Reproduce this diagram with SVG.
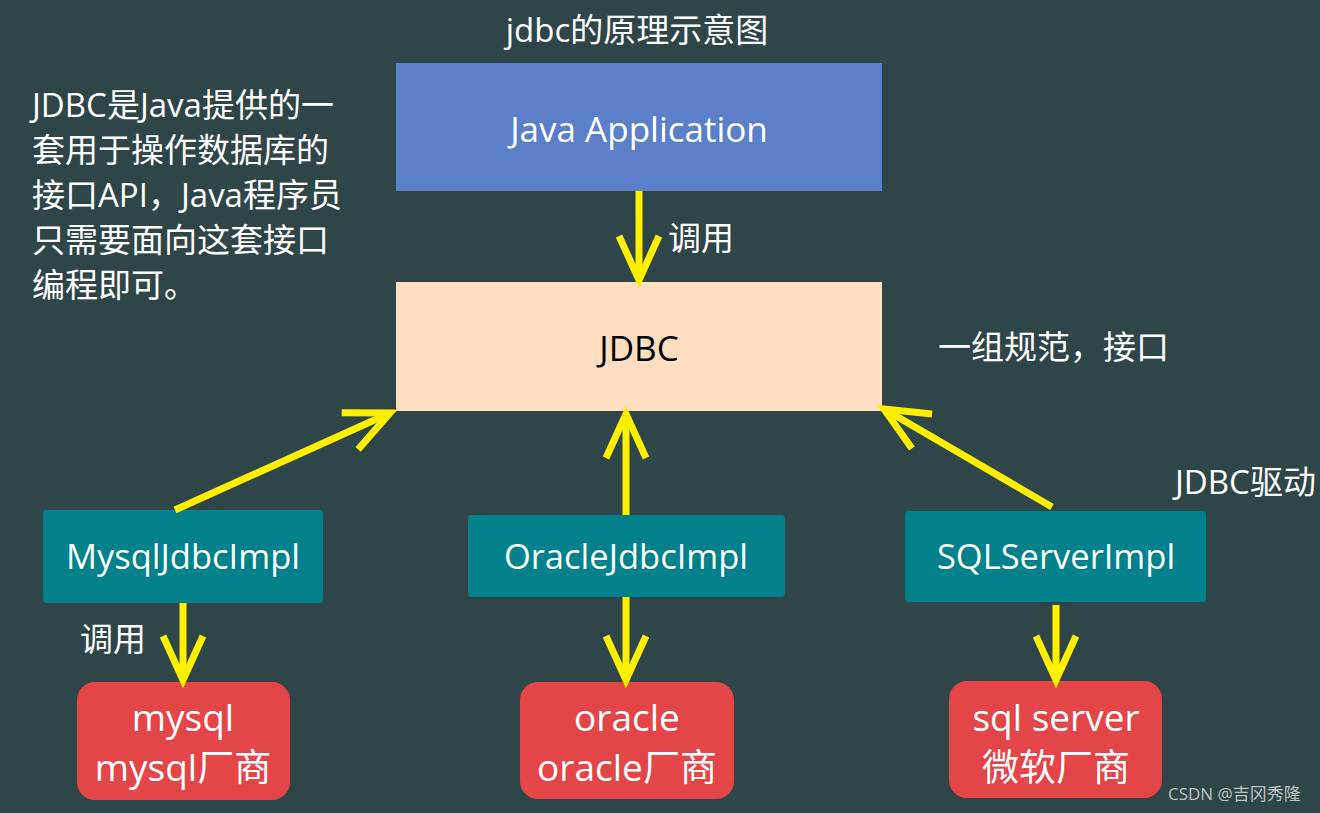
<svg xmlns="http://www.w3.org/2000/svg" width="1320" height="813" viewBox="0 0 1320 813">
<style>
text{font-family:"Open Sans","Noto Sans CJK SC",sans-serif;}
.w{fill:#ffffff;font-size:33px;}
.note{fill:#ffffff;font-size:33px;}
.big{font-size:35px;text-anchor:middle;}
.impl{fill:#ffffff;font-size:34.5px;text-anchor:middle;}
.db{fill:#ffffff;font-size:37px;text-anchor:middle;}
.impl-box{fill:#00818b;}
.db-box{fill:#e44647;}
.conn{stroke:#fff000;stroke-width:7;fill:none;marker-end:url(#chev);}
</style>
<defs>
<marker id="chev" markerUnits="userSpaceOnUse" viewBox="-60 -30 70 60" refX="0" refY="0" markerWidth="70" markerHeight="60" orient="auto">
<path d="M-44,-20 L0,0 L-44,20" fill="none" stroke="#fff000" stroke-width="7"/>
</marker>
</defs>
<rect x="0" y="0" width="1320" height="813" fill="#2f4547"/>
<text class="w" x="637" y="42" text-anchor="middle" font-size="31">jdbc的原理示意图</text>
<g id="note">
<text class="note" x="32" y="117">JDBC是Java提供的一</text>
<text class="note" x="32" y="162">套用于操作数据库的</text>
<text class="note" x="32" y="207">接口API，Java程序员</text>
<text class="note" x="32" y="252">只需要面向这套接口</text>
<text class="note" x="32" y="297">编程即可。</text>
</g>
<g id="java-app">
<rect x="396" y="63" width="486" height="128" fill="#5b80c9"/>
<text class="big" x="639" y="142" fill="#ffffff">Java Application</text>
</g>
<g id="jdbc">
<rect x="396" y="282" width="486" height="129" fill="#ffdfc0"/>
<text class="big" x="639" y="361" fill="#000000">JDBC</text>
</g>
<text class="w" x="938" y="359">一组规范，接口</text>
<text class="w" x="1175" y="494">JDBC驱动</text>
<g id="mysql-impl">
<rect class="impl-box" x="43" y="510" width="280" height="93" rx="4"/>
<text class="impl" x="183" y="569">MysqlJdbcImpl</text>
</g>
<g id="oracle-impl">
<rect class="impl-box" x="468" y="515" width="317" height="82" rx="4"/>
<text class="impl" x="626" y="569">OracleJdbcImpl</text>
</g>
<g id="sqlserver-impl">
<rect class="impl-box" x="905" y="511" width="301" height="91" rx="4"/>
<text class="impl" x="1056" y="569">SQLServerImpl</text>
</g>
<g id="mysql-db">
<rect class="db-box" x="77" y="682" width="213" height="118" rx="18"/>
<text class="db" x="183" y="731">mysql</text>
<text class="db" x="183" y="781">mysql厂商</text>
</g>
<g id="oracle-db">
<rect class="db-box" x="520" y="682" width="214" height="117" rx="18"/>
<text class="db" x="627" y="731">oracle</text>
<text class="db" x="627" y="781">oracle厂商</text>
</g>
<g id="sqlserver-db">
<rect class="db-box" x="949" y="681" width="213" height="117" rx="18"/>
<text class="db" x="1056" y="731">sql server</text>
<text class="db" x="1056" y="781">微软厂商</text>
</g>
<g id="connectors">
<line class="conn" x1="639" y1="191" x2="639" y2="280"/>
<line class="conn" x1="175" y1="510" x2="390" y2="413"/>
<line class="conn" x1="626" y1="515" x2="626" y2="414"/>
<line class="conn" x1="1052" y1="507" x2="884" y2="409"/>
<line class="conn" x1="183" y1="603" x2="183" y2="680"/>
<line class="conn" x1="626" y1="597" x2="626" y2="680"/>
<line class="conn" x1="1056" y1="605" x2="1056" y2="680"/>
</g>
<text class="w" x="668" y="250">调用</text>
<text class="w" x="80" y="651">调用</text>
<text x="1168" y="800" fill="#d8dcdc" fill-opacity="0.85" font-size="17">CSDN @吉冈秀隆</text>
</svg>
